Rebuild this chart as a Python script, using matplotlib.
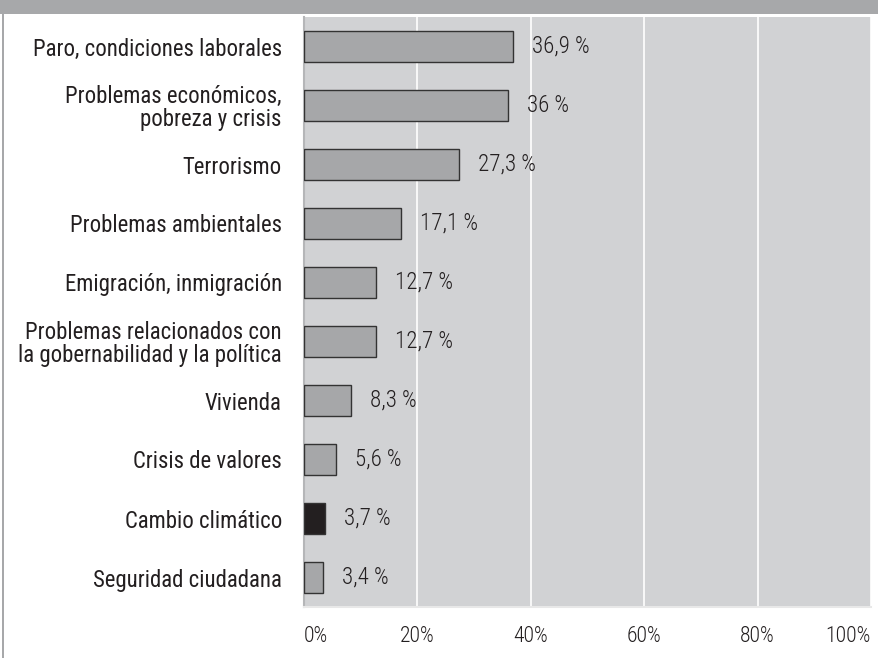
import matplotlib
matplotlib.use("Agg")
import matplotlib.pyplot as plt
from matplotlib.patches import Rectangle
from matplotlib import font_manager as fm

categories = [
    "Paro, condiciones laborales",
    "Problemas económicos,\npobreza y crisis",
    "Terrorismo",
    "Problemas ambientales",
    "Emigración, inmigración",
    "Problemas relacionados con\nla gobernabilidad y la política",
    "Vivienda",
    "Crisis de valores",
    "Cambio climático",
    "Seguridad ciudadana",
]
values = [36.9, 36.0, 27.3, 17.1, 12.7, 12.7, 8.3, 5.6, 3.7, 3.4]
value_labels = ["36,9 %", "36 %", "27,3 %", "17,1 %", "12,7 %", "12,7 %",
                "8,3 %", "5,6 %", "3,7 %", "3,4 %"]
highlight = "Cambio climático"
xticks = [0, 20, 40, 60, 80, 100]
xtick_labels = ["0%", "20%", "40%", "60%", "80%", "100%"]

names = {f.name for f in fm.fontManager.ttflist}
def pick(cands):
    for c in cands:
        if c in names:
            return c
    return "DejaVu Sans"
fam_lab = pick(["Liberation Sans Narrow", "Roboto Condensed", "Archivo Narrow", "PT Sans Narrow", "Pragati Narrow"])
fam_num = pick(["Roboto Condensed", "PT Sans Narrow", "Archivo Narrow", "PT Sans"])
plt.rcParams['font.family'] = [fam_lab, 'DejaVu Sans']

txt = "#231f20"
fig = plt.figure(figsize=(8.79, 6.58), dpi=100)
renderer = fig.canvas.get_renderer()

def fit_size(s, family, target_px, weight="normal"):
    t = fig.text(0, 0, s, fontsize=10, family=[family, "DejaVu Sans"], fontweight=weight)
    w = t.get_window_extent(renderer).width
    t.remove()
    return 10 * target_px / w

NUM_W = "light"
FS_LAB = fit_size("Paro, condiciones laborales", fam_lab, 248)
FS_VAL = fit_size("36,9 %", fam_num, 58, NUM_W)
FS_TICK = fit_size("20%", fam_num, 35, NUM_W)

ax = fig.add_axes([304/879, 1-607/658, (871-304)/879, (607-17)/658])
ax.set_facecolor("#d1d2d4")

ys = list(range(len(categories)))
colors = ["#231f20" if c == highlight else "#a6a7a9" for c in categories]
ax.barh(ys, values, height=0.54, color=colors, edgecolor="#333333", linewidth=1, zorder=3)
for y, v, lab in zip(ys, values, value_labels):
    ax.annotate(lab, (v, y), xytext=(13.5, 0), textcoords="offset points",
                va="center", ha="left", fontsize=FS_VAL, color=txt, zorder=4,
                family=[fam_num, "DejaVu Sans"], fontweight=NUM_W)

ax.set_xlim(0, 100)
ax.set_ylim(len(categories)-0.5, -0.5)
ax.set_xticks(xticks)
ax.set_xticklabels(xtick_labels, fontsize=FS_TICK, color=txt,
                   family=[fam_num, "DejaVu Sans"], fontweight=NUM_W)
tl = ax.get_xticklabels()
tl[0].set_ha("left")
tl[-1].set_ha("right")
ax.set_yticks(ys)
ax.set_yticklabels(categories, fontsize=FS_LAB, color=txt, linespacing=1.0)
ax.tick_params(axis="both", length=0)
ax.tick_params(axis="x", pad=14)
ax.tick_params(axis="y", pad=16)
ax.xaxis.grid(True, color="white", linewidth=1.2, zorder=1)
ax.set_axisbelow(True)
for s in ["top", "right"]:
    ax.spines[s].set_visible(False)
ax.spines["left"].set_color("#b5b6b8")
ax.spines["left"].set_linewidth(1.5)
ax.spines["bottom"].set_color("#e8e8e8")
ax.spines["bottom"].set_linewidth(1.5)

fig.patches.append(Rectangle((0, 1-14/658), 1, 14/658, transform=fig.transFigure,
                             facecolor="#a7a8aa", edgecolor="none", zorder=0))
fig.patches.append(Rectangle((2/879, 0), 2/879, 1, transform=fig.transFigure,
                             facecolor="#a7a8aa", edgecolor="none", zorder=0))

fig.savefig("out.png", dpi=100)
